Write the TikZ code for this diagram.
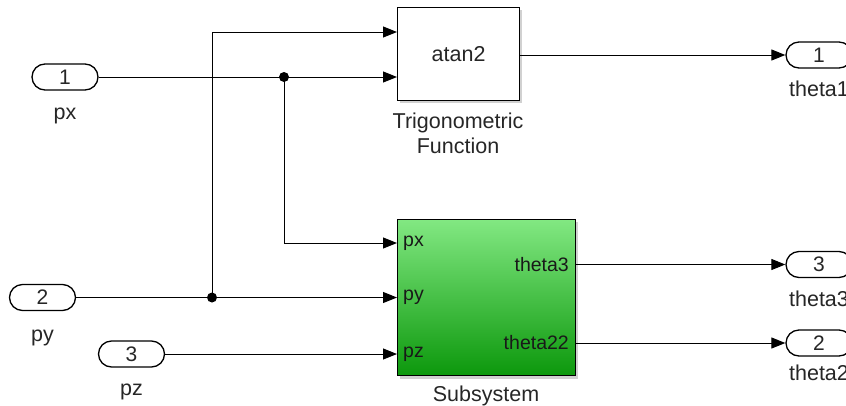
\documentclass[tikz,border=0pt]{standalone}
\usepackage{fontspec}
\setmainfont{Liberation Sans}
\usetikzlibrary{arrows.meta,calc}
\definecolor{gtop}{RGB}{130,232,130}
\definecolor{gbot}{RGB}{12,152,12}
\begin{document}
\begin{tikzpicture}[x=1pt,y=-1pt,
  sig/.style={line width=1pt},
  arr/.style={sig,-{Triangle[length=14pt,width=11pt]}},
  port/.style={draw,line width=1.3pt,rounded corners=13pt,minimum width=66pt,minimum height=26pt,inner sep=0pt,font=\fontsize{21}{23}\selectfont,text=black!85},
  lbl/.style={font=\fontsize{21.5}{24}\selectfont,text=black!85,anchor=base,inner sep=0pt},
  plbl/.style={font=\fontsize{19.5}{22}\selectfont,text=black!90,inner sep=0pt},
  blk/.style={draw,line width=1.2pt,inner sep=0pt,anchor=north west},
  shd/.style={fill=black!18},
  jdot/.style={circle,fill=black,inner sep=0pt,minimum size=10pt}]
\useasboundingbox (0,0) rectangle (846,405);
\clip (0,0) rectangle (846,405);

% inports
\node[port] (px) at (65,77) {1};
\node[lbl] (pxl) at (65,119) {px};
\node[port] (py) at (42.5,297.5) {2};
\node[lbl] (pyl) at (42.5,341) {py};
\node[port] (pz) at (131.5,354) {3};
\node[lbl] (pzl) at (131.5,395) {pz};

% trig block
\fill[shd] (399.5,9.5) rectangle (521.5,102.5);
\node[blk,fill=white,minimum width=122pt,minimum height=93pt,font=\fontsize{21.5}{24}\selectfont,text=black!85] (trig) at (397,7) {atan2};
\node[lbl] (trigl1) at (458,128) {Trigonometric};
\node[lbl] (trigl2) at (458,153) {Function};
\coordinate (trigin1) at (397,32);
\coordinate (trigin2) at (397,77);
\coordinate (trigout) at (519,55);

% subsystem
\fill[shd] (399.5,221.5) rectangle (577.5,378.5);
\node[blk,top color=gtop,bottom color=gbot,minimum width=178pt,minimum height=156pt] (sub) at (397,219) {};
\node[lbl] (subl) at (486,401) {Subsystem};
\coordinate (subpx) at (397,243);
\coordinate (subpy) at (397,297.5);
\coordinate (subpz) at (397,354);
\coordinate (subth3) at (575,264.5);
\coordinate (subth22) at (575,343);
\node[plbl,anchor=west] (lpx) at (403,243) {px};
\node[plbl,anchor=west] (lpy) at (403,297.5) {py};
\node[plbl,anchor=west] (lpz) at (403,354) {pz};
\node[plbl,anchor=east] (lth3) at (569,264.5) {theta3};
\node[plbl,anchor=east] (lth22) at (569,343) {theta22};

% outports
\node[port] (o1) at (819,55) {1};
\node[lbl] (o1l) at (819,96) {theta1};
\node[port] (o3) at (819,264.5) {3};
\node[lbl] (o3l) at (819,306) {theta3};
\node[port] (o2) at (819,343) {2};
\node[lbl] (o2l) at (819,380) {theta2};

% junctions
\node[jdot] (j1) at (284,77) {};
\node[jdot] (j2) at (212,297.5) {};

% signals
\draw[arr] (px.east) -- (trigin2);
\draw[arr] (j1.center) |- (subpx);
\draw[arr] (py.east) -- (subpy);
\draw[arr] (j2.center) |- (trigin1);
\draw[arr] (pz.east) -- (subpz);
\draw[arr] (trigout) -- (o1.west);
\draw[arr] (subth3) -- (o3.west);
\draw[arr] (subth22) -- (o2.west);
\end{tikzpicture}
\end{document}
